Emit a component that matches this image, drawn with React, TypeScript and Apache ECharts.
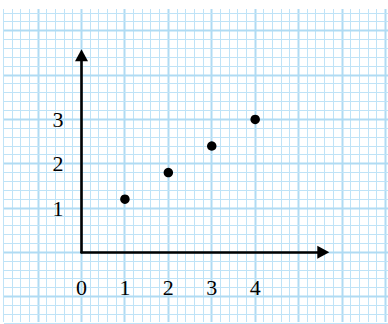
import React, { useEffect, useRef } from "react";
import * as echarts from "echarts";

const xValues = [1, 2, 3, 4];
const yValues = [1.2, 1.8, 2.4, 3.0];
const xTickLabels = [0, 1, 2, 3, 4];
const yTickLabels = [1, 2, 3];

export default function App() {
  const ref = useRef<HTMLDivElement>(null);
  useEffect(() => {
    document.body.style.margin = "0";
    const chart = echarts.init(ref.current!, null, { renderer: "svg" });
    const W = 388, H = 324;
    const X0 = 81.5, Y0 = 252.3, UX = 43.42, UY = 44.29;
    const xEnd = 323.3, yEnd = 55.3;
    const xMax = (xEnd - X0) / UX;
    const yMax = (Y0 - yEnd) / UY;
    // graph-paper background: 5 cells per data unit
    const cx0 = -9, cx1 = 35, cy0 = -8, cy1 = 27;
    const cellX = UX / 5, cellY = UY / 5;
    const minor = "#bfe3f7";
    const major = "#b0dbf3";
    const crisp = (v: number) => Math.floor(v) + 0.5;
    const paper: any[] = [];
    for (let i = cx0; i <= cx1; i++) {
      const x = crisp(X0 + i * cellX);
      const isMajor = i % 5 === 0;
      paper.push({
        type: "line",
        silent: true,
        z: -10,
        shape: { x1: x, y1: 9, x2: x, y2: 322 },
        style: { stroke: isMajor ? major : minor, lineWidth: isMajor ? 2 : 1 },
      });
    }
    for (let j = cy0; j <= cy1; j++) {
      const y = crisp(Y0 - j * cellY);
      const isMajor = j % 5 === 0;
      paper.push({
        type: "line",
        silent: true,
        z: -10,
        shape: { x1: 4, y1: y, x2: W, y2: y },
        style: { stroke: isMajor ? major : minor, lineWidth: isMajor ? 2 : 1 },
      });
    }
    const serif = "'Liberation Serif', 'Times New Roman', serif";
    const axisLine = {
      show: true,
      onZero: false,
      symbol: ["none", "triangle"],
      symbolSize: [13, 12],
      lineStyle: { color: "#000", width: 2.6 },
    };
    chart.setOption({
      animation: false,
      backgroundColor: "#ffffff",
      graphic: { elements: paper },
      grid: { left: X0, top: yEnd, right: W - xEnd, bottom: H - Y0, outerBoundsMode: "none", containLabel: false },
      xAxis: {
        type: "value",
        min: 0,
        max: xMax,
        interval: 1,
        z: 10,
        axisLine,
        axisTick: { show: false },
        splitLine: { show: false },
        minorTick: { show: false },
        minorSplitLine: { show: false },
        axisLabel: {
          show: true,
          margin: 24,
          fontSize: 22,
          fontFamily: serif,
          color: "#000",
          showMaxLabel: false,
          formatter: (v: number) => (xTickLabels.includes(v) ? String(v) : ""),
        },
      },
      yAxis: {
        type: "value",
        min: 0,
        max: yMax,
        interval: 1,
        z: 10,
        axisLine,
        axisTick: { show: false },
        splitLine: { show: false },
        minorTick: { show: false },
        minorSplitLine: { show: false },
        axisLabel: {
          show: true,
          margin: 18,
          fontSize: 22,
          fontFamily: serif,
          color: "#000",
          showMaxLabel: false,
          formatter: (v: number) => (yTickLabels.includes(v) ? String(v) : ""),
        },
      },
      series: [
        {
          type: "scatter",
          z: 20,
          symbol: "circle",
          symbolSize: 9.5,
          itemStyle: { color: "#000", opacity: 1 },
          data: xValues.map((x, i) => [x, yValues[i]]),
        },
      ],
    });
    return () => chart.dispose();
  }, []);
  return <div ref={ref} style={{ width: 388, height: 324 }} />;
}
